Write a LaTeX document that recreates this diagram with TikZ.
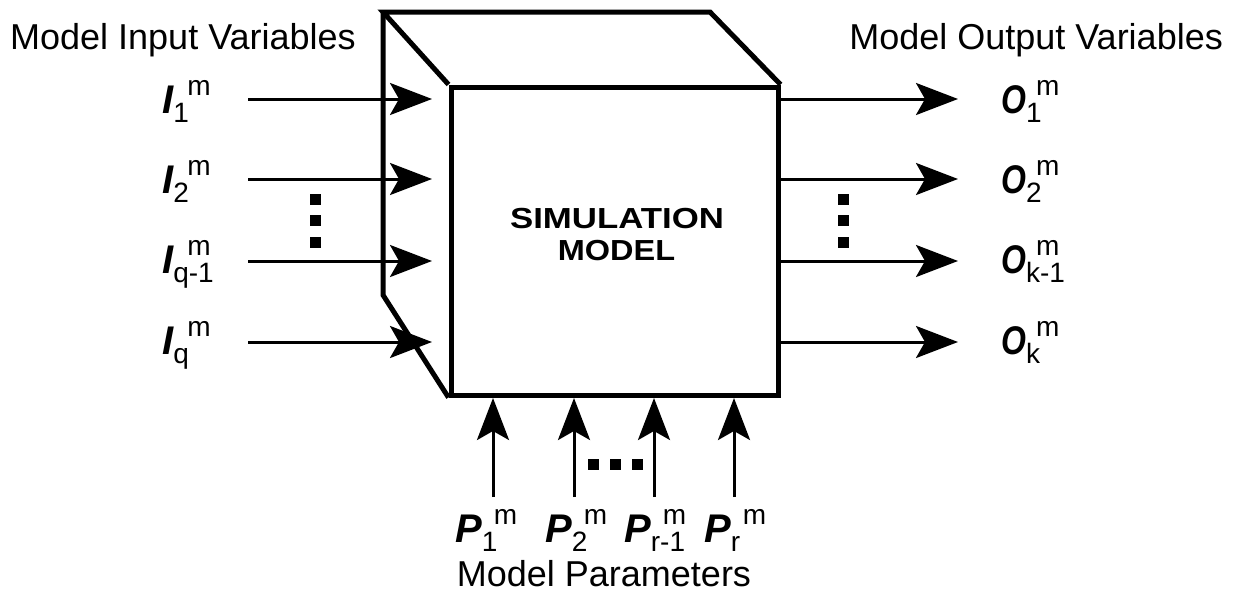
\documentclass[tikz,border=0pt]{standalone}
\usepackage{fontspec}
\setmainfont{Liberation Sans}
\usetikzlibrary{arrows.meta}
\newcommand\bigf{\fontsize{40}{48}\selectfont}
\newcommand\smf{\fontsize{28}{34}\selectfont}
% #1 letter, #2 subscript, #3 kern before subscript, #4 kern before superscript
\newcommand\vlab[4]{{\bigf\bfseries\itshape #1}\kern#3{\smf\rlap{\raisebox{-9pt}{#2}}\kern#4\raisebox{18pt}{m}}}
\newcommand\narrowO{\scalebox{0.8}[1]{O}}
\begin{document}
\begin{tikzpicture}[x=1pt,y=-1pt,
  cubeline/.style={line width=5pt,line join=miter},
  flow/.style={line width=3pt,-{Stealth[length=42pt,width=32pt,inset=9pt]}},
  dotsq/.style={fill=black,draw=none,minimum size=11pt,inner sep=0pt},
  txt/.style={inner sep=0pt,font=\fontsize{36}{43}\selectfont},
  lab/.style={inner sep=0pt,anchor=base west},
  ttl/.style={inner sep=0pt,anchor=base,font=\bfseries\fontsize{29}{32}\selectfont}]
\useasboundingbox (0,0) rectangle (1233,592);

% cube
\node[draw,line width=5pt,minimum width=327pt,minimum height=308pt,inner sep=0pt] (front) at (614.5,241) {};
\coordinate (btl) at (383,12);
\coordinate (btr) at (710,12);
\coordinate (bbl) at (383,295);
\draw[cubeline] (front.north west) -- (btl) -- (btr) -- (front.north east);
\draw[cubeline] (btl) -- (bbl) -- (front.south west);

\node[ttl] (title1) at (617,228) {\scalebox{1.2}[1]{SIMULATION}};
\node[ttl] (title2) at (616.5,260) {\scalebox{1.12}[1]{MODEL}};

% headings
\node[txt,anchor=base west] (inhead) at (10,49) {Model Input Variables};
\node[txt,anchor=base east] (outhead) at (1223,49) {Model Output Variables};
\node[txt,anchor=base] (parhead) at (604,586) {Model Parameters};

% inputs
\foreach \n/\y in {1/99,2/179,3/261,4/342}{
  \coordinate (it\n) at (248,\y);
  \coordinate (ih\n) at (432,\y);
  \draw[flow] (it\n) -- (ih\n);
}
\node[lab] (I1) at (162,113) {\vlab{I}{1}{0pt}{14pt}};
\node[lab] (I2) at (162,193) {\vlab{I}{2}{0pt}{14pt}};
\node[lab] (I3) at (162,273) {\vlab{I}{q-1}{0pt}{14pt}};
\node[lab] (I4) at (162,354) {\vlab{I}{q}{0pt}{14pt}};

% outputs
\foreach \n/\y in {1/99,2/179,3/261,4/342}{
  \coordinate (ot\n) at (778,\y);
  \coordinate (oh\n) at (958,\y);
  \draw[flow] (ot\n) -- (oh\n);
}
\node[lab] (O1) at (1001,113) {\vlab{\narrowO}{1}{0pt}{10pt}};
\node[lab] (O2) at (1001,193) {\vlab{\narrowO}{2}{0pt}{10pt}};
\node[lab] (O3) at (1001,273) {\vlab{\narrowO}{k-1}{0pt}{10pt}};
\node[lab] (O4) at (1001,354) {\vlab{\narrowO}{k}{0pt}{10pt}};

% parameters
\foreach \n/\x in {1/493,2/574,3/654,4/734}{
  \coordinate (pt\n) at (\x,497);
  \coordinate (ph\n) at (\x,398);
  \draw[flow] (pt\n) -- (ph\n);
}
\node[lab] (P1) at (455,542) {\vlab{P}{1}{0pt}{12pt}};
\node[lab] (P2) at (545,542) {\vlab{P}{2}{0pt}{12pt}};
\node[lab] (P3) at (624,542) {\vlab{P}{r-1}{0pt}{12pt}};
\node[lab] (P4) at (704,542) {\vlab{P}{r}{0pt}{12pt}};

% ellipsis dots
\node[dotsq] (dl1) at (315.5,199.5) {};
\node[dotsq] (dl2) at (315.5,220.5) {};
\node[dotsq] (dl3) at (315.5,242.5) {};
\node[dotsq] (dr1) at (843.5,199.5) {};
\node[dotsq] (dr2) at (843.5,220.5) {};
\node[dotsq] (dr3) at (843.5,242.5) {};
\node[dotsq] (db1) at (593,464) {};
\node[dotsq] (db2) at (615,464) {};
\node[dotsq] (db3) at (637,464) {};
\end{tikzpicture}
\end{document}
